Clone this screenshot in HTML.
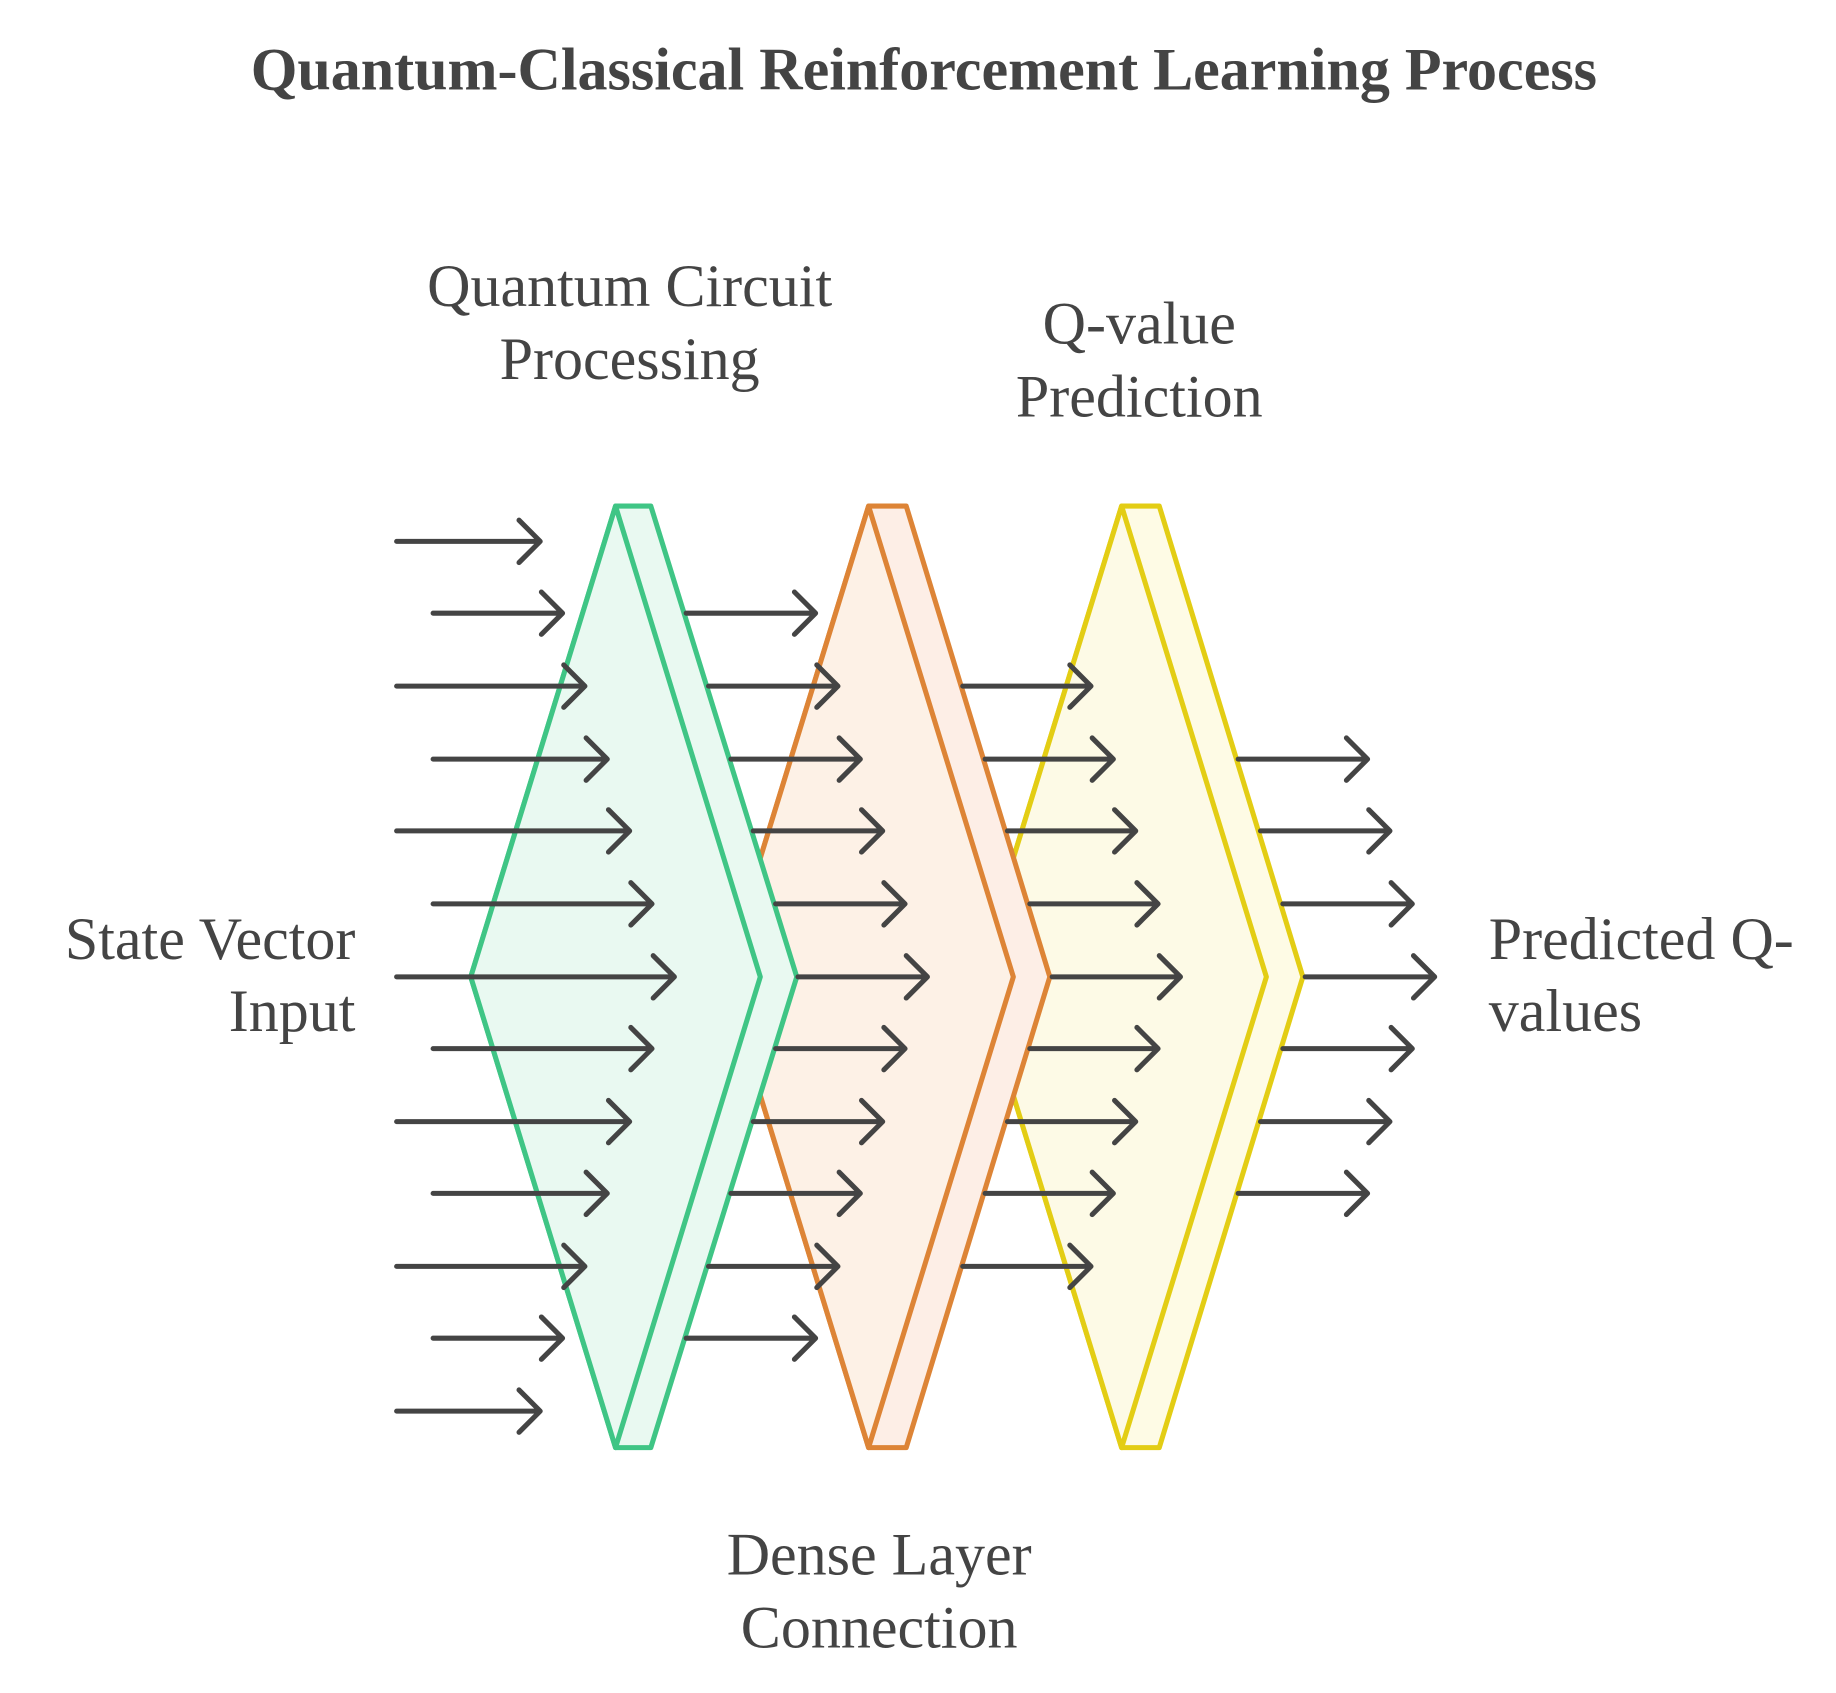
<!DOCTYPE html>
<html><head><style>html,body{margin:0;padding:0;background:#fff}svg{display:block}</style></head><body>
<svg width="1836" height="1693" viewBox="0 0 1560 1438.5" preserveAspectRatio="none" xmlns="http://www.w3.org/2000/svg">
<rect width="1560" height="1438.5" fill="#fff"/>
<g font-family="'Liberation Serif',serif" fill="#444">
<text x="785" y="76" font-size="51" font-weight="bold" text-anchor="middle">Quantum-Classical Reinforcement Learning Process</text>
<g font-size="51">
<text x="535" y="260" text-anchor="middle">Quantum Circuit</text>
<text x="535" y="322" text-anchor="middle">Processing</text>
<text x="968" y="292" text-anchor="middle">Q-value</text>
<text x="968" y="354" text-anchor="middle">Prediction</text>
<text x="302" y="815" text-anchor="end">State Vector</text>
<text x="302" y="876" text-anchor="end">Input</text>
<text x="1265" y="815">Predicted Q-</text>
<text x="1265" y="876">values</text>
<text x="747" y="1338" text-anchor="middle">Dense Layer</text>
<text x="747" y="1400" text-anchor="middle">Connection</text>
</g></g>
<g stroke-width="4.3" stroke-linejoin="round">
<g stroke="#e3cd14">
<polygon points="953,430 985,430 1107,830 985,1230 953,1230 830,830" fill="#fefbe5"/>
<polygon points="953,430 1076,830 953,1230 830,830" fill="#fdfae6"/>
</g>
<g stroke="#dd8436">
<polygon points="738,430 770,430 892,830 770,1230 738,1230 615,830" fill="#fdeee6"/>
<polygon points="738,430 861,830 738,1230 615,830" fill="#fdf1e6"/>
</g>
<g stroke="#3fc585">
<polygon points="523,430 553,430 677,830 553,1230 523,1230 400,830" fill="#e9f9f1"/>
<polygon points="523,430 646,830 523,1230 400,830" fill="#e9f9f1"/>
</g>
</g>
<g stroke="#444" stroke-width="4.3" stroke-linecap="round" stroke-linejoin="round" fill="none">
<path d="M337 460H459M441 442L459 460L441 478"/>
<path d="M368 521H478M460 503L478 521L460 539"/>
<path d="M337 583H497M479 565L497 583L479 601"/>
<path d="M368 645H516M498 627L516 645L498 663"/>
<path d="M337 706H535M517 688L535 706L517 724"/>
<path d="M368 768H554M536 750L554 768L536 786"/>
<path d="M337 830H573M555 812L573 830L555 848"/>
<path d="M368 891H554M536 873L554 891L536 909"/>
<path d="M337 953H535M517 935L535 953L517 971"/>
<path d="M368 1014H516M498 996L516 1014L498 1032"/>
<path d="M337 1076H497M479 1058L497 1076L479 1094"/>
<path d="M368 1137H478M460 1119L478 1137L460 1155"/>
<path d="M337 1199H459M441 1181L459 1199L441 1217"/>
<path d="M583 521H693M675 503L693 521L675 539"/>
<path d="M602 583H712M694 565L712 583L694 601"/>
<path d="M621 645H731M713 627L731 645L713 663"/>
<path d="M640 706H750M732 688L750 706L732 724"/>
<path d="M659 768H769M751 750L769 768L751 786"/>
<path d="M678 830H788M770 812L788 830L770 848"/>
<path d="M659 891H769M751 873L769 891L751 909"/>
<path d="M640 953H750M732 935L750 953L732 971"/>
<path d="M621 1014H731M713 996L731 1014L713 1032"/>
<path d="M602 1076H712M694 1058L712 1076L694 1094"/>
<path d="M583 1137H693M675 1119L693 1137L675 1155"/>
<path d="M818 583H927M909 565L927 583L909 601"/>
<path d="M837 645H946M928 627L946 645L928 663"/>
<path d="M856 706H965M947 688L965 706L947 724"/>
<path d="M875 768H984M966 750L984 768L966 786"/>
<path d="M894 830H1003M985 812L1003 830L985 848"/>
<path d="M875 891H984M966 873L984 891L966 909"/>
<path d="M856 953H965M947 935L965 953L947 971"/>
<path d="M837 1014H946M928 996L946 1014L928 1032"/>
<path d="M818 1076H927M909 1058L927 1076L909 1094"/>
<path d="M1052 645H1162M1144 627L1162 645L1144 663"/>
<path d="M1071 706H1181M1163 688L1181 706L1163 724"/>
<path d="M1090 768H1200M1182 750L1200 768L1182 786"/>
<path d="M1109 830H1219M1201 812L1219 830L1201 848"/>
<path d="M1090 891H1200M1182 873L1200 891L1182 909"/>
<path d="M1071 953H1181M1163 935L1181 953L1163 971"/>
<path d="M1052 1014H1162M1144 996L1162 1014L1144 1032"/>
</g>
</svg>
</body></html>
